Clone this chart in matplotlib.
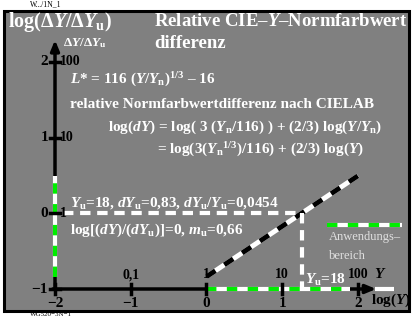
import numpy as np
import matplotlib
matplotlib.use("Agg")
import matplotlib.pyplot as plt
from matplotlib.patches import Rectangle

# data
Yu = 18
logY_line = [0.0, 2.0]                  # range of the CIELAB line, log(Y)
x_ticks = [-2, -1, 0, 1, 2]
x_bottom_labels = ["\u22122", "\u22121", "0", "1", "2"]
x_top_labels = ["", "0,1", "1", "10", "100"]
y_ticks = [-1, 0, 1, 2]
y_left_labels = ["\u22121", "0", "1", "2"]
y_right_labels = ["", "1", "10", "100"]
x_range = [0.0, 1.9]                    # Anwendungsbereich on log(Y)

plt.rcParams["font.family"] = ["Liberation Serif", "DejaVu Serif"]
plt.rcParams["font.weight"] = "bold"
plt.rcParams["mathtext.fontset"] = "custom"
plt.rcParams["mathtext.rm"] = "Liberation Serif:bold"
plt.rcParams["mathtext.it"] = "Liberation Serif:bold:italic"
plt.rcParams["mathtext.bf"] = "Liberation Serif:bold"

W, H = 413, 317
fig = plt.figure(figsize=(W / 100, H / 100), dpi=100)
fig.patch.set_facecolor("white")

# frame
fig.add_artist(Rectangle((4 / W, 1 - 311 / H), 405 / W, 300 / H,
                         transform=fig.transFigure, facecolor="#808080",
                         edgecolor="black", lw=2.2, zorder=0))

ax = fig.add_axes([0, 0, 1, 1])
ax.set_facecolor("none")
ax.axis("off")
# pixel -> data mapping: x -2 at px 55, 76 px/unit; y -1 at px 289, 75.7 px/unit
ax.set_xlim(-2 - 55 / 75.75, -2 + (W - 55) / 75.75)
ax.set_ylim(-1 - (H - 289) / 75.67, 2 + 62 / 75.67)


def px(x, y):
    return x / W, 1 - y / H


white = "white"
green = "#00ee00"

# axes with arrows
ax.annotate("", xy=(-2, 2.29), xytext=(-2, -1.0),
            arrowprops=dict(arrowstyle="-|>,head_width=0.25,head_length=0.6",
                            color="black", lw=2.5, shrinkA=0, shrinkB=0))
ax.annotate("", xy=(2.24, -1), xytext=(-2.03, -1),
            arrowprops=dict(arrowstyle="-|>,head_width=0.25,head_length=0.6",
                            color="black", lw=2.5, shrinkA=0, shrinkB=0))
ax.plot([2.22, 2.48], [-1, -1], color=white, lw=3, solid_capstyle="butt")

# ticks
for t in x_ticks:
    ax.plot([t, t], [-1.06, -0.94], color="black", lw=2.5, zorder=5)
for t in y_ticks:
    ax.plot([-2.06, -1.94], [t, t], color="black", lw=2.5, zorder=5)

# CIELAB line
lx = np.array(logY_line)
ly = 2 / 3 * (lx - np.log10(Yu))
ax.plot(lx, ly, color=white, lw=3.5, solid_capstyle="butt")
ax.plot(lx, ly, color="black", lw=3.5, dashes=(2.2, 2.2))

# application range on both axes
ax.plot(x_range, [-1, -1], color=white, lw=3, solid_capstyle="butt", zorder=4)
ax.plot(x_range, [-1, -1], color=green, lw=3, dashes=(2.5, 2.5), zorder=4)
ax.plot([-2, -2], [ly[0], ly[-1]], color=white, lw=3, solid_capstyle="butt",
        zorder=4)
ax.plot([-2, -2], [ly[0], ly[-1]], color=green, lw=3, dashes=(2.5, 2.5),
        zorder=4)

# reference lines at Yu
ax.plot([-1.9, np.log10(Yu)], [0, 0], color=white, lw=3, dashes=(2.5, 1.6))
ax.plot([np.log10(Yu)] * 2, [0, -1], color=white, lw=3, dashes=(2.5, 1.6))

# legend
ax.plot([1.59, 2.58], [-0.16, -0.16], color=white, lw=3, solid_capstyle="butt")
ax.plot([1.59, 2.58], [-0.16, -0.16], color=green, lw=3, dashes=(2.5, 2.5))
fig.text(*px(329, 237), "Anwendungs\u2013", color="#e0e0e0", fontsize=9,
         weight="normal", va="center")
fig.text(*px(329, 256), "bereich", color="#e0e0e0", fontsize=9,
         weight="normal", va="center")

# tick labels
for t, lab in zip(x_ticks, x_bottom_labels):
    ax.text(t, -1.11, lab, ha="center", va="top", fontsize=11, color="black")
for t, lab in zip(x_ticks, x_top_labels):
    ax.text(t, -0.9, lab, ha="center", va="bottom", fontsize=10, color="black")
ax.text(2.3, -0.9, "$Y$", ha="center", va="bottom", fontsize=11, color="black")
fig.text(*px(411, 300), "log($Y$)", ha="right", va="center", fontsize=11,
         color="black")
for t, lab in zip(y_ticks, y_left_labels):
    ax.text(-2.09, t, lab, ha="right", va="center", fontsize=11, color="black")
for t, lab in zip(y_ticks, y_right_labels):
    ax.text(-1.93, t, lab, ha="left", va="center", fontsize=10, color="black")

# titles and annotations
fig.text(*px(8, 22), "log(\u0394$Y$/\u0394$Y_{\\rm u}$)", color=white,
         fontsize=14.5, va="center")
fig.text(*px(63, 43), "\u0394$Y$/\u0394$Y_{\\rm u}$", color=white,
         fontsize=9.5, va="center")
fig.text(*px(154, 22), "Relative CIE\u2013$Y$\u2013Normfarbwert", color=white,
         fontsize=13.5, va="center")
fig.text(*px(154, 44), "differenz", color=white, fontsize=13.5, va="center")
fig.text(*px(70, 80), "$L$* = 116 ($Y$/$Y_{\\rm n}$)$^{1/3}$ \u2013 16",
         color=white, fontsize=11, va="center")
fig.text(*px(70, 105), "relative Normfarbwertdifferenz nach CIELAB",
         color=white, fontsize=11, va="center")
fig.text(*px(108, 127),
         "log($dY$) = log( 3 ($Y_{\\rm n}$/116) ) + (2/3) log($Y$/$Y_{\\rm n}$)",
         color=white, fontsize=11, va="center")
fig.text(*px(157, 150),
         "= log(3($Y_{\\rm n}$$^{1/3}$)/116) + (2/3) log($Y$)",
         color=white, fontsize=11, va="center")
fig.text(*px(70, 203),
         "$Y_{\\rm u}$=18, $dY_{\\rm u}$=0,83, $dY_{\\rm u}$/$Y_{\\rm u}$=0,0454",
         color=white, fontsize=11, va="center")
fig.text(*px(70, 230), "log[($dY$)/($dY_{\\rm u}$)]=0, $m_{\\rm u}$=0,66",
         color=white, fontsize=11, va="center")
fig.text(*px(305, 280), "$Y_{\\rm u}$=18", color=white, fontsize=11,
         va="center")

# small file labels at the edges
fig.text(*px(30, 4), "W.../1N_1", color="black", fontsize=5.5,
         weight="normal", va="center")
fig.text(*px(30, 314), "WG520\u22123N\u22121", color="black", fontsize=5,
         weight="normal", va="center", zorder=10)

fig.savefig("out.png", dpi=100, facecolor=fig.get_facecolor())
